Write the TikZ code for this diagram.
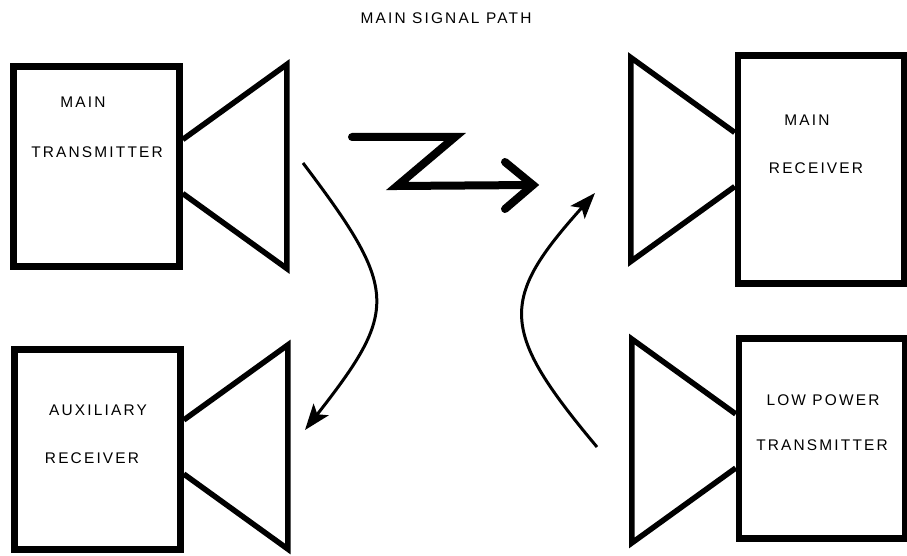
\documentclass[tikz,border=0pt]{standalone}
\usepackage{fontspec}
\setmainfont{Liberation Sans}
\usetikzlibrary{arrows.meta, positioning, calc}

\begin{document}
\begin{tikzpicture}[
  x=1bp, y=-1bp,
  unit/.style={draw, line width=6.5bp, minimum width=166bp, minimum height=200bp,
               inner sep=0pt},
  hornline/.style={line width=5.5bp, line join=miter},
  horn/.pic={\draw[hornline] (0,-27) -- (104,-102) -- (104,102) -- (0,27);},
  lbl/.style={font=\fontsize{15.5}{18}\selectfont\addfontfeature{LetterSpace=14},
              inner sep=0pt},
  wave/.style={line width=8bp, line cap=round, line join=miter},
  arr/.style={-{Stealth[length=26bp, width=19bp, inset=6bp]}, line width=3bp}
]
\useasboundingbox (0,0) rectangle (907,556);

% units
\node[unit] (mtx) at (96.5,166.5) {};
\node[unit] (arx) at (97.5,449.5) {};
\node[unit, minimum height=228bp] (mrx) at (821,169.5) {};
\node[unit] (lptx) at (822,438.5) {};

% horns
\pic at (mtx.east) {horn};
\pic at ($(arx.east)+(0,-2.5)$) {horn};
\pic[xscale=-1] at ($(mrx.west)+(0,-10)$) {horn};
\pic[xscale=-1] at ($(lptx.west)+(0,2.5)$) {horn};

% texts
\node[lbl] (title) at (446,18) {MAIN\ SIGNAL\ PATH};
\node[lbl] (mtxa) at (83,102) {MAIN};
\node[lbl] (mtxb) at (97,152) {TRANSMITTER};
\node[lbl] (arxa) at (98,410) {AUXILIARY};
\node[lbl] (arxb) at (92,458) {RECEIVER};
\node[lbl] (mrxa) at (807,120) {MAIN};
\node[lbl] (mrxb) at (816,168) {RECEIVER};
\node[lbl] (lptxa) at (823,400) {LOW POWER};
\node[lbl] (lptxb) at (822,445) {TRANSMITTER};

% main signal path
\coordinate (z0) at (352,137);
\coordinate (z1) at (455,137);
\coordinate (z2) at (397,186);
\coordinate (z3) at (533,185);
\coordinate (zb1) at (505,162);
\coordinate (zb2) at (505,209);
\draw[wave] (z0) -- (z1) -- (z2) -- (z3);
\draw[wave] (zb1) -- (z3) -- (zb2);

% leakage paths
\coordinate (ls) at (303,163);
\coordinate (le) at (305,430);
\coordinate (rs) at (597,447);
\coordinate (re) at (595,193);
\draw[arr] (ls) .. controls (399,290) and (399,310) .. (le);
\draw[arr] (rs) .. controls (499,330) and (499,300) .. (re);
\end{tikzpicture}
\end{document}
